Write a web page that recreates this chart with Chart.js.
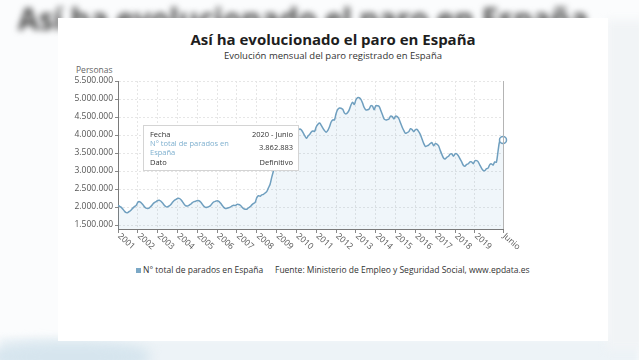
<!DOCTYPE html>
<html>
<head>
<meta charset="utf-8">
<script src="https://cdn.jsdelivr.net/npm/chart.js@4"></script>
<style>
  html, body { margin: 0; padding: 0; }
  body { width: 639px; height: 360px; position: relative; overflow: hidden; background: #fbfcfd; font-family: 'Open Sans', sans-serif; }
  .bgtitle { position: absolute; left: 18px; top: 4px; font: bold 30px/1 'Open Sans', sans-serif; color: #4a4a4a; white-space: nowrap; filter: blur(3px); }
  .bgbottom { position: absolute; left: 0; right: 0; top: 338px; height: 30px; background: #edf3f7; filter: blur(3px); }
  .bgwave { position: absolute; left: -10px; top: 342px; width: 160px; height: 30px; background: #d6e5ee; border-radius: 40%; filter: blur(6px); }
  .bgright { position: absolute; left: 606px; top: 20px; width: 40px; height: 330px; background: #f1f4f6; filter: blur(4px); }
  .card { position: absolute; left: 58px; top: 18px; width: 550px; height: 323px; background: #fff; }
  .t { position: absolute; white-space: nowrap; line-height: 1; }
  #chart { position: absolute; left: 0; top: 0; }
</style>
</head>
<body>
<div class="bgtitle">Así ha evolucionado el paro en España</div>
<div class="bgbottom"></div>
<div class="bgwave"></div>
<div class="bgright"></div>
<div class="card"></div>
<div class="t" style="left:0;width:666px;text-align:center;top:32px;font-size:15px;font-weight:bold;color:#1e1e1e;">Así ha evolucionado el paro en España</div>
<div class="t" style="left:0;width:666px;text-align:center;top:51px;font-size:9.5px;color:#333;">Evolución mensual del paro registrado en España</div>
<div class="t" style="left:76px;top:66px;font-size:8.5px;color:#666;">Personas</div>
<div class="t" style="left:136px;top:268px;width:5px;height:5px;background:#7ba8c6;"></div>
<div class="t" style="left:143px;top:266px;font-size:8.5px;color:#333;">N° total de parados en España</div>
<div class="t" style="left:275px;top:266px;font-size:8.5px;color:#333;">Fuente: Ministerio de Empleo y Seguridad Social, www.epdata.es</div>
<canvas id="chart" width="639" height="360"></canvas>
<script>
// paro registrado, enero 2001 - junio 2020 (personas)
var paro2001 = [2040000, 2020000, 1990000, 1940000, 1880000, 1845000, 1850000, 1880000, 1920000, 1970000, 2010000, 2045000];
var paro2002 = [2130000, 2150000, 2120000, 2070000, 2010000, 1970000, 1960000, 1980000, 2020000, 2080000, 2120000, 2150000];
var paro2003 = [2180000, 2190000, 2160000, 2110000, 2050000, 2010000, 2005000, 2030000, 2070000, 2130000, 2180000, 2210000];
var paro2004 = [2235000, 2240000, 2210000, 2150000, 2080000, 2035000, 2030000, 2050000, 2080000, 2120000, 2150000, 2160000];
var paro2005 = [2180000, 2175000, 2140000, 2080000, 2020000, 1990000, 1995000, 2010000, 2040000, 2100000, 2140000, 2160000];
var paro2006 = [2175000, 2160000, 2110000, 2050000, 1990000, 1960000, 1965000, 1980000, 2000000, 2030000, 2050000, 2040000];
var paro2007 = [2074000, 2070000, 2050000, 2000000, 1956000, 1940000, 1940000, 1980000, 2010000, 2060000, 2100000, 2130000];
var paro2008 = [2261000, 2315000, 2300000, 2338000, 2352000, 2390000, 2426000, 2530000, 2625000, 2818000, 2989000, 3129000];
var paro2009 = [3328000, 3482000, 3606000, 3645000, 3621000, 3565000, 3545000, 3629000, 3710000, 3808000, 3869000, 3924000];
var paro2010 = [4048000, 4131000, 4167000, 4142000, 4066000, 3982000, 3909000, 3970000, 4018000, 4086000, 4110000, 4100000];
var paro2011 = [4231000, 4299000, 4334000, 4270000, 4190000, 4122000, 4080000, 4131000, 4227000, 4361000, 4420000, 4422000];
var paro2012 = [4599000, 4712000, 4751000, 4744000, 4714000, 4615000, 4587000, 4626000, 4705000, 4834000, 4908000, 4848000];
var paro2013 = [4980000, 5040000, 5035000, 4989000, 4891000, 4763000, 4698000, 4699000, 4724000, 4811000, 4808000, 4701000];
var paro2014 = [4814000, 4812000, 4796000, 4685000, 4572000, 4449000, 4420000, 4428000, 4447000, 4526000, 4512000, 4448000];
var paro2015 = [4525000, 4512000, 4452000, 4333000, 4215000, 4120000, 4046000, 4067000, 4094000, 4176000, 4150000, 4094000];
var paro2016 = [4151000, 4153000, 4094000, 4011000, 3891000, 3768000, 3684000, 3698000, 3721000, 3764000, 3789000, 3703000];
var paro2017 = [3760000, 3750000, 3702000, 3573000, 3462000, 3363000, 3336000, 3382000, 3410000, 3467000, 3474000, 3412000];
var paro2018 = [3477000, 3478000, 3422000, 3336000, 3252000, 3162000, 3135000, 3182000, 3202000, 3254000, 3252000, 3202000];
var paro2019 = [3285000, 3289000, 3255000, 3164000, 3079000, 3016000, 3011000, 3065000, 3080000, 3178000, 3198000, 3164000];
var paro2020 = [3253000, 3246000, 3549000, 3832000, 3858000, 3862883];

var xTickMonths = [0, 12, 24, 36, 48, 60, 72, 84, 96, 108, 120, 132, 144, 156, 168, 180, 192, 204, 216, 233];
var xTickLabels = ['2001', '2002', '2003', '2004', '2005', '2006', '2007', '2008', '2009', '2010',
  '2011', '2012', '2013', '2014', '2015', '2016', '2017', '2018', '2019', 'Junio'];
var yTicks = [1500000, 2000000, 2500000, 3000000, 3500000, 4000000, 4500000, 5000000, 5500000];

var serie = [].concat(paro2001, paro2002, paro2003, paro2004, paro2005, paro2006, paro2007, paro2008,
  paro2009, paro2010, paro2011, paro2012, paro2013, paro2014, paro2015, paro2016, paro2017, paro2018,
  paro2019, paro2020);
var puntos = serie.map(function (v, i) { return { x: i, y: v }; });
var ultimo = serie.length - 1;

var fmt = function (n) { return String(n).replace(/\B(?=(\d{3})+(?!\d))/g, '.'); };
var lineColor = '#6f9fbf';
var FONT = "'Open Sans', sans-serif";

var extras = {
  id: 'extras',
  afterDraw: function (chart) {
    var ctx = chart.ctx, a = chart.chartArea, xs = chart.scales.x;
    ctx.save();
    // borde derecho
    ctx.strokeStyle = '#b4b4b4';
    ctx.lineWidth = 1;
    ctx.beginPath();
    ctx.moveTo(Math.round(a.right) + 0.5, a.top);
    ctx.lineTo(Math.round(a.right) + 0.5, a.bottom);
    ctx.stroke();

    // etiquetas del eje x giradas
    ctx.fillStyle = '#555';
    ctx.font = '8.5px ' + FONT;
    ctx.textAlign = 'left';
    ctx.textBaseline = 'middle';
    xTickMonths.forEach(function (m, i) {
      var x = xs.getPixelForValue(m);
      ctx.save();
      ctx.translate(x + 1, a.bottom + 6);
      ctx.rotate(42 * Math.PI / 180);
      ctx.fillText(xTickLabels[i], 0, 0);
      ctx.restore();
    });

    // tooltip fijo
    var bx = 143, by = 125, bw = 156, bh = 46;
    ctx.fillStyle = '#fff';
    ctx.fillRect(bx, by, bw, bh);
    ctx.strokeStyle = '#d4d4d4';
    ctx.strokeRect(bx + 0.5, by + 0.5, bw - 1, bh - 1);
    ctx.font = '7.5px ' + FONT;
    ctx.textBaseline = 'middle';
    ctx.fillStyle = '#333';
    ctx.textAlign = 'left';
    ctx.fillText('Fecha', bx + 7, by + 10);
    ctx.fillText('Dato', bx + 7, by + 38);
    ctx.fillStyle = '#7fb0cf';
    ctx.fillText('N° total de parados en', bx + 7, by + 19);
    ctx.fillText('España', bx + 7, by + 28);
    ctx.fillStyle = '#333';
    ctx.textAlign = 'right';
    ctx.fillText('2020 - Junio', bx + bw - 6, by + 10);
    ctx.fillText(fmt(serie[ultimo]), bx + bw - 6, by + 23);
    ctx.fillText('Definitivo', bx + bw - 6, by + 38);
    ctx.restore();
  }
};

new Chart(document.getElementById('chart'), {
  type: 'line',
  data: {
    datasets: [{
      label: 'N° total de parados en España',
      data: puntos,
      borderColor: lineColor,
      borderWidth: 1.5,
      backgroundColor: 'rgba(120,170,205,0.11)',
      fill: 'start',
      tension: 0.3,
      clip: false,
      pointRadius: function (c) { return c.dataIndex === ultimo ? 3.5 : 0; },
      pointBackgroundColor: '#fff',
      pointBorderColor: lineColor,
      pointBorderWidth: 1.5
    }]
  },
  options: {
    responsive: false,
    animation: false,
    devicePixelRatio: 1,
    layout: { padding: { left: 60, right: 136, top: 81, bottom: 121 } },
    plugins: { legend: { display: false }, tooltip: { enabled: false }, title: { display: false } },
    scales: {
      x: {
        type: 'linear',
        min: 0,
        max: ultimo,
        afterBuildTicks: function (s) { s.ticks = xTickMonths.map(function (v) { return { value: v }; }); },
        afterFit: function (s) { s.height = 10; },
        ticks: { display: false },
        grid: {
          color: function (c) { return c.index === 0 ? 'rgba(0,0,0,0)' : '#e6e6e6'; },
          tickColor: '#888',
          tickLength: 4,
          tickBorderDash: []
        },
        border: { display: true, color: '#7a7a7a', width: 1, dash: [2, 2] }
      },
      y: {
        min: 1390000,
        max: 5500000,
        afterBuildTicks: function (s) { s.ticks = yTicks.map(function (v) { return { value: v }; }); },
        afterFit: function (s) { s.width = 58; },
        ticks: {
          padding: 2,
          color: '#555',
          font: { family: FONT, size: 8.5 },
          callback: function (v) { return fmt(v); }
        },
        grid: { color: '#e6e6e6', tickColor: '#888', tickLength: 3, tickBorderDash: [] },
        border: { display: true, color: '#7a7a7a', width: 1, dash: [2, 2] }
      }
    }
  },
  plugins: [extras]
});
</script>
</body>
</html>
